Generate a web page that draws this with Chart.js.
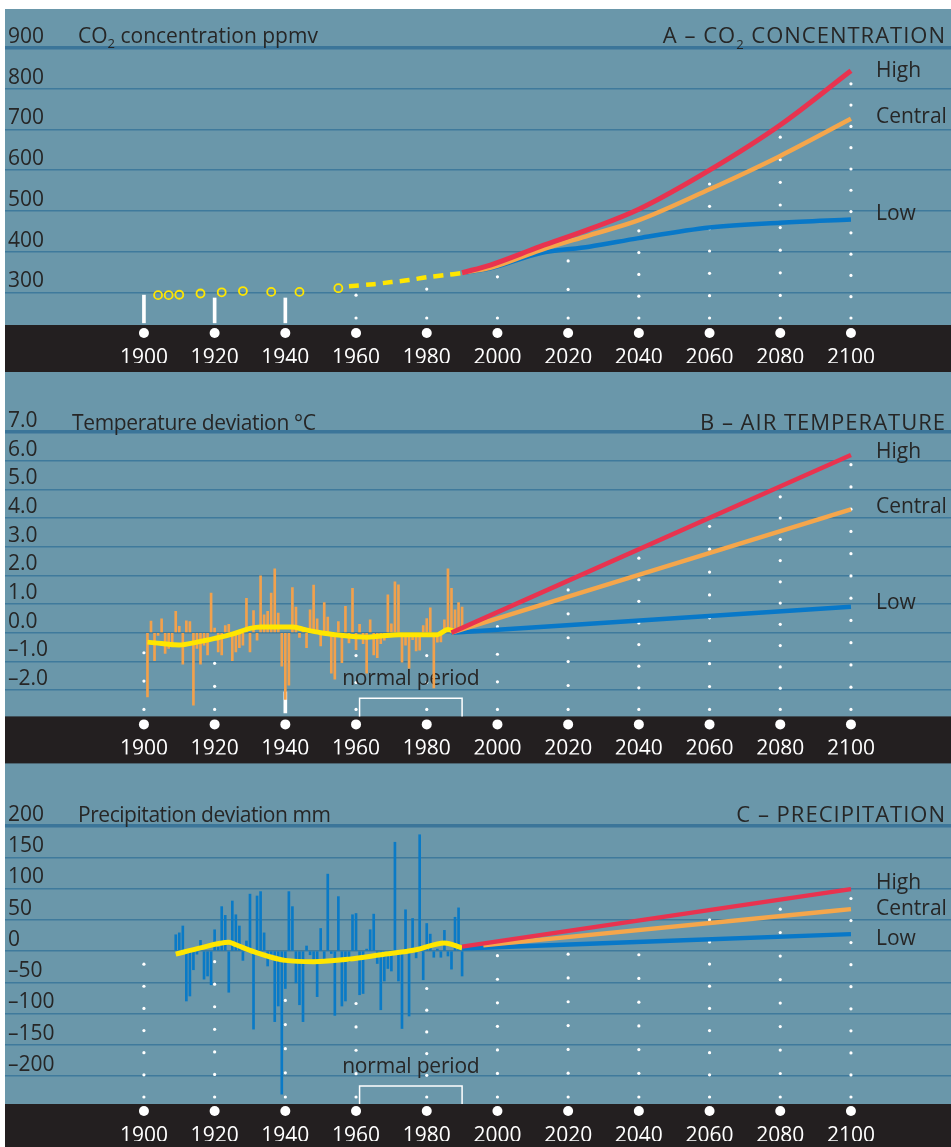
<!DOCTYPE html>
<html>
<head>
<meta charset="utf-8">
<script src="https://cdn.jsdelivr.net/npm/chart.js@4.4.1/dist/chart.umd.min.js"></script>
<style>
  html, body { margin: 0; padding: 0; background: #ffffff; }
  #page { position: relative; width: 951px; height: 1147px; overflow: hidden; background: #ffffff; }
  #sheet { position: absolute; left: 5px; top: 9px; right: 0; bottom: 0; background: #6a97aa; }
  canvas { position: absolute; left: 0; }
</style>
</head>
<body>
<div id="page">
  <div id="sheet"></div>
  <canvas id="co2" width="951" height="380" style="top:0px;width:951px;height:380px"></canvas>
  <canvas id="temp" width="951" height="390" style="top:380px;width:951px;height:390px"></canvas>
  <canvas id="prec" width="951" height="377" style="top:770px;width:951px;height:377px"></canvas>
</div>
<script>
// ---------- shared axis ----------
const yearTicks = [1900, 1920, 1940, 1960, 1980, 2000, 2020, 2040, 2060, 2080, 2100];
const scenarioNames = ['High', 'Central', 'Low'];

// ---------- A: CO2 concentration (ppmv) ----------
const co2Ticks = [300, 400, 500, 600, 700, 800, 900];
const co2SampleYears = [1904, 1907, 1910, 1916, 1922, 1928, 1936, 1944, 1955];
const co2SampleValues = [293, 293, 294, 297, 300, 303, 301, 301, 310];
const co2MeasuredYears = [1958, 1965, 1970, 1975, 1980, 1985, 1990];
const co2MeasuredValues = [315, 320, 325, 330, 337, 342, 347];
const co2ProjYears = [1990, 1998, 2012, 2026, 2040, 2060, 2080, 2100];
const co2High = [348, 367, 412, 455, 504, 600, 711, 844];
const co2Central = [348, 360, 403, 440, 477, 553, 635, 726];
const co2Low = [348, 359, 396, 412, 433, 459, 471, 479];
const co2MarkYears = [1900, 1920, 1940];
const co2MarkTops = [293, 286, 286];
const co2MarkBase = 225;
const co2GuideYears = [1960, 1980, 2000, 2020, 2040, 2060, 2080, 2100];
const co2GuideTops = [293, 308, 338, 377, 451, 566, 681, 812];
const co2GuideDots = [2, 2, 2, 3, 5, 7, 9, 12];

// ---------- B: air temperature deviation (°C) ----------
const tempTicks = [-2, -1, 0, 1, 2, 3, 4, 5, 6, 7];
const tempFirstYear = 1901;
const tempAnomaly = [
  -2.24, 0.40, -0.98, -0.10, 0.48, -0.72, -0.55, -0.50, 0.74, 0.22,
  -1.10, 0.41, 0.39, -2.53, -0.55, -1.10, -0.44, -0.78, 1.38, 0.16,
  -0.67, -0.78, 0.25, 0.29, -0.98, -0.67, -0.52, -0.44, 1.20, -0.67,
  0.77, -0.26, 1.98, 0.62, 0.74, 1.38, 2.23, 0.68, -1.17, -2.33,
  -1.83, 1.57, 0.89, -0.17, 0.10, -0.52, 0.80, 1.66, 0.48, -0.46,
  1.05, 0.54, -1.41, -1.62, 0.39, -1.05, 0.92, -0.36, 1.55, -0.59,
  0.29, -0.38, -1.41, 0.45, -0.78, -0.87, -0.38, -0.26, 1.32, 0.31,
  1.77, 1.67, -1.03, -0.44, -1.24, -0.24, -0.64, -0.61, 0.25, 0.49,
  0.87, -1.93, -0.33, -0.32, 0.45, 2.23, 1.55, 0.80, 1.05, 0.89
];
const tempTrendYears = [1901, 1905, 1910, 1915, 1920, 1925, 1930, 1933, 1942, 1945, 1950, 1955, 1960, 1963, 1967, 1972, 1983, 1986, 1988];
const tempTrendValues = [-0.33, -0.38, -0.43, -0.33, -0.20, -0.05, 0.15, 0.20, 0.20, 0.12, 0.00, -0.08, -0.14, -0.16, -0.12, -0.07, -0.07, 0.11, 0.03];
const tempProjYears = [1987, 2100];
const tempHigh = [0.0, 6.2];
const tempCentral = [0.0, 4.3];
const tempLow = [0.0, 0.9];
const tempMarkYears = [1940];
const tempMarkTops = [-2.06];
const tempMarkBase = -2.8;
const tempGuideYears = [1900, 1920, 1960, 1980, 2000, 2020, 2040, 2060, 2080, 2100];
const tempGuideTops = [-0.70, -1.07, -0.80, -0.80, 0.21, 1.49, 2.60, 3.71, 4.74, 5.86];
const tempGuideDots = [3, 3, 3, 3, 4, 6, 8, 9, 11, 12];

// ---------- C: precipitation deviation (mm) ----------
const precTicks = [-200, -150, -100, -50, 0, 50, 100, 150, 200];
const precFirstYear = 1909;
const precAnomaly = [
  26, 29, 40, -80, -72, -30, -5, 17, -45, -40,
  -54, 34, 6, 71, 57, -66, 80, 58, 40, -15,
  16, 91, -125, 88, 95, 29, -24, -5, -113, -88,
  -229, -60, 95, 71, -51, -86, -113, 8, -6, -13,
  -73, 36, -17, 123, -4, -103, 87, -88, -80, -17,
  58, 60, -70, -68, 3, 34, 59, -20, -94, -48,
  -28, -32, 174, -48, -124, 66, -104, 52, -11, 186,
  -46, 44, 27, -10, 3, -10, 33, -8, -29, 54,
  69, -40
];
const precTrendYears = [1909, 1916, 1924, 1926, 1931, 1936, 1940, 1948, 1958, 1967, 1977, 1985, 1990];
const precTrendValues = [-5, 5, 14, 10, -1, -10, -15, -17, -13, -6, 2, 13, 5];
const precHighYears = [1990, 2100];
const precHigh = [7, 99];
const precCentralYears = [1996, 2100];
const precCentral = [9, 67];
const precLowYears = [1990, 2100];
const precLow = [4, 27];
const precGuideYears = [1900, 1920, 1940, 1960, 1980, 2000, 2020, 2040, 2060, 2080, 2100];
const precGuideTops = [-21, -17, -79, -84, -60, -7.5, -5, -6, 50, 67, 84];
const precGuideDots = [7, 7, 5, 5, 6, 7, 7, 7, 9, 9, 10];

const normalPeriod = [1961, 1990];

// ---------- styling ----------
const FONT = "'Open Sans', 'DejaVu Sans', sans-serif";
const INK = '#262626';
const GRID = '#3f7a9c';
const GRID_TOP = '#3b7599';
const BAND = '#231f20';
const RED = '#e8334f';
const ORANGE = '#f5a64b';
const BLUE = '#0878c8';
const YELLOW = '#ffe600';
const X_MIN = 1860.7, X_MAX = 2128.3;

Chart.defaults.font.family = FONT;
Chart.defaults.font.size = 21;
Chart.defaults.color = INK;

const pts = (xs, ys) => xs.map((x, i) => ({ x: x, y: ys[i] }));
const dash = s => s.replace('-', '\u2013');

function richText(ctx, parts, x, y, align, size, spacing) {
  ctx.letterSpacing = spacing + 'px';
  const widths = parts.map(([t, sub]) => {
    ctx.font = (sub ? Math.round(size * 0.6) : size) + 'px ' + FONT;
    return ctx.measureText(t).width;
  });
  const total = widths.reduce((a, b) => a + b, 0);
  let cx = align === 'right' ? x - total : x;
  ctx.textAlign = 'left';
  ctx.textBaseline = 'alphabetic';
  parts.forEach(([t, sub], i) => {
    ctx.font = (sub ? Math.round(size * 0.6) : size) + 'px ' + FONT;
    ctx.fillText(t, cx, sub ? y + size * 0.25 : y);
    cx += widths[i];
  });
  ctx.letterSpacing = '0px';
}

// band, dotted guides, bracket, titles and scenario names
const decor = {
  id: 'decor',
  beforeDatasetsDraw(chart, args, o) {
    const { ctx, chartArea: ca } = chart;
    const xs = chart.scales.x, ys = chart.scales.y;
    ctx.save();
    ctx.fillStyle = BAND;
    ctx.fillRect(5, ca.bottom - o.bandOffset, chart.width - 5, 47);

    ctx.fillStyle = '#ffffff';
    o.guideYears.forEach((yr, i) => {
      const px = xs.getPixelForValue(yr);
      const yb = ca.bottom - o.guideLift;
      const yt = ys.getPixelForValue(o.guideTops[i]);
      const n = o.guideDots[i];
      for (let k = 0; k < n; k++) {
        const py = n === 1 ? yb : yb - (yb - yt) * k / (n - 1);
        ctx.beginPath();
        ctx.arc(px, py, 1.6, 0, Math.PI * 2);
        ctx.fill();
      }
    });

    if (o.normalTop !== undefined) {
      const x0 = xs.getPixelForValue(normalPeriod[0]);
      const x1 = xs.getPixelForValue(normalPeriod[1]);
      const yt = ys.getPixelForValue(o.normalTop);
      const yb = ca.bottom - o.bandOffset;
      ctx.strokeStyle = '#ffffff';
      ctx.lineWidth = 1.5;
      ctx.beginPath();
      ctx.moveTo(x0, yb); ctx.lineTo(x0, yt); ctx.lineTo(x1, yt); ctx.lineTo(x1, yb);
      ctx.stroke();
      ctx.fillStyle = INK;
      ctx.font = '21px ' + FONT;
      ctx.letterSpacing = '-0.2px';
      ctx.textAlign = 'center';
      ctx.textBaseline = 'alphabetic';
      ctx.fillText('normal period', (x0 + x1) / 2, yt - 13);
    }
    ctx.restore();
  },
  afterDatasetsDraw(chart, args, o) {
    const { ctx } = chart;
    const xs = chart.scales.x, ys = chart.scales.y;
    ctx.save();
    ctx.fillStyle = INK;
    ctx.font = '21px ' + FONT;
    ctx.textAlign = 'left';
    ctx.textBaseline = 'middle';
    const lx = xs.getPixelForValue(2100) + 25;
    scenarioNames.forEach((name, i) => {
      ctx.fillText(name, lx, ys.getPixelForValue(o.endValues[i]) + o.labelShift[i]);
    });
    ctx.restore();
  },
  afterDraw(chart, args, o) {
    const { ctx, chartArea: ca } = chart;
    ctx.save();
    ctx.fillStyle = INK;
    const base = ca.top - o.titleLift;
    richText(ctx, o.leftTitle, o.leftTitleX, base, 'left', 21, o.leftSpacing);
    richText(ctx, o.rightTitle, 946, base, 'right', 22, 1);
    ctx.restore();
  }
};

function bigDots(min) {
  return {
    type: 'line', data: yearTicks.map(v => ({ x: v, y: min })), showLine: false,
    pointRadius: 5, pointBackgroundColor: '#ffffff', pointBorderWidth: 0, clip: false
  };
}
function projLine(xs, ys, color, width) {
  return {
    type: 'line', data: pts(xs, ys), borderColor: color, borderWidth: width,
    pointRadius: 0, cubicInterpolationMode: 'monotone', fill: false, borderCapStyle: 'butt'
  };
}
function whiteMarks(years, tops, base) {
  return {
    type: 'bar', data: years.map((yr, i) => ({ x: yr, y: [base, tops[i]] })),
    backgroundColor: '#ffffff', barThickness: 3, grouped: false
  };
}

function build(id, cfg) {
  const topVal = cfg.max;
  return new Chart(document.getElementById(id), {
    type: 'line',
    data: { datasets: cfg.datasets },
    options: {
      responsive: false, animation: false, events: [], devicePixelRatio: 1,
      layout: { padding: cfg.padding, autoPadding: false },
      plugins: { legend: { display: false }, tooltip: { enabled: false }, decor: cfg.decor },
      scales: {
        x: {
          type: 'linear', min: X_MIN, max: X_MAX, offset: false,
          grid: { display: false, drawTicks: false, offset: false }, border: { display: false },
          afterBuildTicks: s => { s.ticks = yearTicks.map(v => ({ value: v })); },
          afterFit: s => { s.height = 30; s.paddingLeft = 0; s.paddingRight = 0; },
          ticks: { color: '#ffffff', padding: 12, autoSkip: false, maxRotation: 0, z: 1, callback: v => String(v) }
        },
        y: {
          type: 'linear', min: cfg.min, max: cfg.max,
          grid: {
            drawTicks: false,
            color: c => (c.tick && c.tick.value === topVal) ? GRID_TOP : GRID,
            lineWidth: c => (c.tick && c.tick.value === topVal) ? 3.5 : 1.4
          },
          border: { display: false },
          afterBuildTicks: s => { s.ticks = cfg.ticks.map(v => ({ value: v })); },
          afterFit: s => { s.width = 0; s.paddingTop = 0; s.paddingBottom = 0; },
          ticks: { mirror: true, padding: 3, labelOffset: -11, color: INK, autoSkip: false, callback: cfg.fmt }
        }
      }
    },
    plugins: [decor]
  });
}

// A
build('co2', {
  min: 200, max: 900, ticks: co2Ticks, fmt: v => String(v),
  padding: { left: 5, right: 0, top: 48, bottom: 17 },
  datasets: [
    bigDots(200),
    projLine(co2ProjYears, co2High, RED, 5),
    projLine(co2ProjYears, co2Central, ORANGE, 4.5),
    projLine(co2ProjYears, co2Low, BLUE, 4.5),
    { type: 'line', data: pts(co2MeasuredYears, co2MeasuredValues), borderColor: YELLOW, borderWidth: 4.5,
      borderDash: [10, 7], pointRadius: 0, tension: 0.3, borderCapStyle: 'butt' },
    { type: 'line', data: pts(co2SampleYears, co2SampleValues), showLine: false, pointRadius: 4,
      pointBorderWidth: 1.8, pointBorderColor: YELLOW, pointBackgroundColor: 'rgba(0,0,0,0)' },
    whiteMarks(co2MarkYears, co2MarkTops, co2MarkBase)
  ],
  decor: {
    bandOffset: 8, guideLift: 15, guideYears: co2GuideYears, guideTops: co2GuideTops, guideDots: co2GuideDots,
    endValues: [co2High[co2High.length - 1], co2Central[co2Central.length - 1], co2Low[co2Low.length - 1]],
    labelShift: [0, -2, -5], titleLift: 5, leftSpacing: 0,
    leftTitle: [['CO'], ['2', true], [' concentration ppmv']], leftTitleX: 78,
    rightTitle: [['A \u2013 CO'], ['2', true], [' CONCENTRATION']]
  }
});

// B
build('temp', {
  min: -3.2, max: 7.0, ticks: tempTicks, fmt: v => dash(Number(v).toFixed(1)),
  padding: { left: 5, right: 0, top: 52, bottom: 15.6 },
  datasets: [
    bigDots(-3.2),
    projLine(tempProjYears, tempHigh, RED, 4.5),
    projLine(tempProjYears, tempCentral, ORANGE, 4.5),
    projLine(tempProjYears, tempLow, BLUE, 4.5),
    { type: 'line', data: pts(tempTrendYears, tempTrendValues), borderColor: YELLOW, borderWidth: 5,
      pointRadius: 0, cubicInterpolationMode: 'monotone' },
    { type: 'bar', data: tempAnomaly.map((v, i) => ({ x: tempFirstYear + i, y: v })),
      backgroundColor: '#f2a14c', barThickness: 2, grouped: false },
    whiteMarks(tempMarkYears, tempMarkTops, tempMarkBase)
  ],
  decor: {
    bandOffset: 8, guideLift: 15, guideYears: tempGuideYears, guideTops: tempGuideTops, guideDots: tempGuideDots,
    normalTop: -2.29,
    endValues: [tempHigh[1], tempCentral[1], tempLow[1]],
    labelShift: [-3, -2, -4], titleLift: 2, leftSpacing: -0.35,
    leftTitle: [['Temperature deviation \u00b0C']], leftTitleX: 72,
    rightTitle: [['B \u2013 AIR TEMPERATURE']]
  }
});

// C
build('prec', {
  min: -256, max: 200, ticks: precTicks, fmt: v => dash(String(v)),
  padding: { left: 5, right: 0, top: 56, bottom: 6 },
  datasets: [
    bigDots(-256),
    projLine(precHighYears, precHigh, RED, 4.5),
    projLine(precCentralYears, precCentral, ORANGE, 4.5),
    projLine(precLowYears, precLow, BLUE, 4.5),
    { type: 'line', data: pts(precTrendYears, precTrendValues), borderColor: YELLOW, borderWidth: 5,
      pointRadius: 0, cubicInterpolationMode: 'monotone' },
    { type: 'bar', data: precAnomaly.map((v, i) => ({ x: precFirstYear + i, y: v })),
      backgroundColor: '#0a7ac6', barThickness: 2, grouped: false }
  ],
  decor: {
    bandOffset: 7, guideLift: 14, guideYears: precGuideYears, guideTops: precGuideTops, guideDots: precGuideDots,
    normalTop: -216,
    endValues: [precHigh[1], precCentral[1], precLow[1]],
    labelShift: [-6, 0, 5], titleLift: 4, leftSpacing: -0.45,
    leftTitle: [['Precipitation deviation mm']], leftTitleX: 78,
    rightTitle: [['C \u2013 PRECIPITATION']]
  }
});
</script>
</body>
</html>
